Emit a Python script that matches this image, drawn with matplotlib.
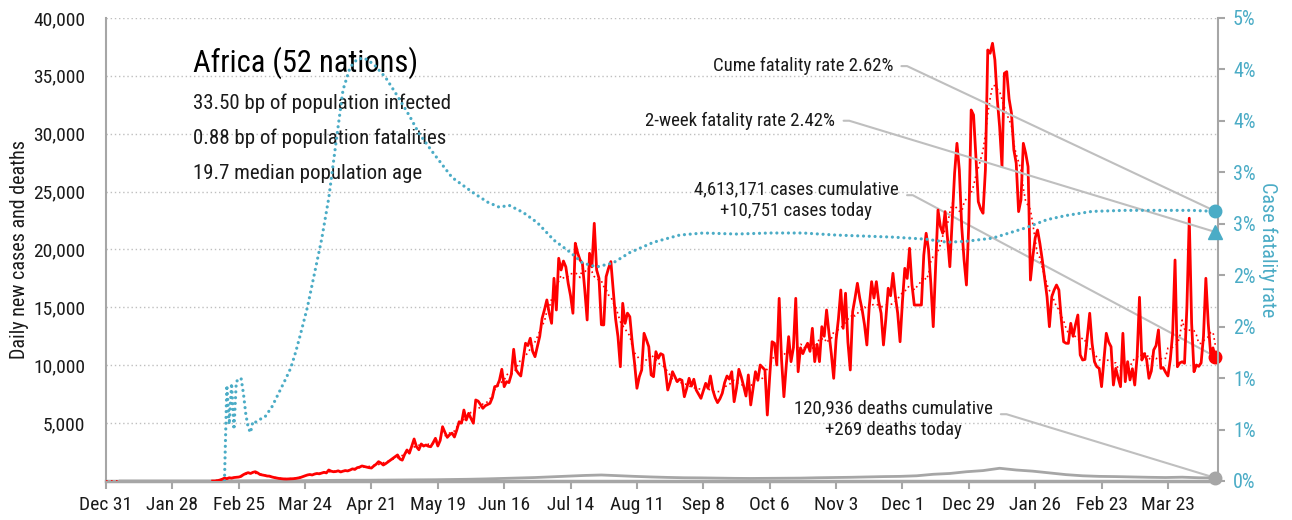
import numpy as np
import pandas as pd
import matplotlib
matplotlib.use("Agg")
import matplotlib.pyplot as plt
import matplotlib.dates as mdates
from matplotlib import font_manager
from matplotlib.ticker import FuncFormatter, MultipleLocator

REGION = "Africa (52 nations)"
STATS = [
    "33.50 bp of population infected",
    "0.88 bp of population fatalities",
    "19.7 median population age",
]

SERIES_START = "2019-12-31"
FIRST_CASE_DATE = "2020-02-14"

# daily new cases, Feb 14 2020 .. Apr 12 2021 (one row per week)
cases = [
    0, 0, 30, 80, 150, 250, 200,                                # Feb 14
    280, 250, 300, 320, 340, 400, 550,                          # Feb 21
    650, 720, 650, 750, 800, 700, 560,                          # Feb 28
    520, 480, 430, 420, 350, 300, 260,                          # Mar 6
    220, 200, 180, 170, 180, 190, 200,                          # Mar 13
    220, 260, 300, 380, 450, 520, 560,                          # Mar 20
    520, 600, 650, 620, 690, 750, 700,                          # Mar 27
    950, 850, 800, 820, 880, 780, 850,                          # Apr 3
    900, 870, 950, 1050, 1000, 1150, 1200,                      # Apr 10
    1300, 1250, 1200, 1150, 1120, 1300, 1450,                   # Apr 17
    1670, 1550, 1380, 1500, 1650, 1810, 1950,                   # Apr 24
    2100, 2250, 1900, 1800, 2300, 2680, 2400,                   # May 1
    3000, 3630, 2960, 2700, 3200, 3020, 3110,                   # May 8
    3000, 2960, 3300, 3690, 3020, 3500, 4690,                   # May 15
    4200, 3770, 4000, 4140, 3800, 4400, 5120,                   # May 22
    5000, 6130, 5270, 5850, 5400, 4990, 7000,                   # May 29
    6900, 6600, 6280, 6500, 6600, 6710, 7200,                   # Jun 5
    8150, 8200, 8700, 9650, 8150, 8580, 8500,                   # Jun 12
    9200, 11380, 9590, 9300, 9070, 10500, 11900,                # Jun 19
    11700, 12330, 11200, 10740, 11600, 12500, 14050,            # Jun 26
    14800, 15640, 14500, 13620, 17510, 14770, 19240,            # Jul 3
    18230, 19000, 18500, 17080, 16000, 14490, 20540,            # Jul 10
    19700, 19090, 18800, 16500, 13910, 19670, 18500,            # Jul 17
    22260, 18230, 17500, 13500, 13480, 17650, 18370,            # Jul 24
    18950, 16500, 14000, 12470, 9870, 15350, 13620,             # Jul 31
    14500, 14190, 12000, 10170, 8010, 9000, 9590,               # Aug 7
    12760, 12200, 11600, 9160, 9010, 11170, 10600,              # Aug 14
    11000, 10890, 9590, 7860, 8500, 9440, 9000,                 # Aug 21
    8580, 8800, 8700, 7280, 8000, 8870, 8200,                   # Aug 28
    8790, 7860, 7500, 7140, 7800, 8440, 8000,                   # Sep 4
    9070, 7860, 7200, 6770, 7100, 7580, 8500,                   # Sep 11
    9070, 8800, 9440, 6850, 8000, 9650, 9000,                   # Sep 18
    8200, 7340, 9160, 6570, 8000, 9440, 8700,                   # Sep 25
    10020, 9800, 9590, 5700, 9000, 12030, 11900,                # Oct 2
    10020, 15780, 10500, 7280, 10000, 12470, 10310,             # Oct 9
    11500, 15780, 9440, 11500, 11000, 11500, 11900,             # Oct 16
    11200, 13190, 10310, 11800, 10310, 13330, 12500,            # Oct 23
    14770, 12800, 11000, 8870, 12180, 14000, 16500,             # Oct 30
    13190, 16220, 12000, 9590, 14630, 15800, 17080,             # Nov 6
    15780, 14800, 13500, 11750, 15060, 17220, 15800,            # Nov 13
    17220, 15500, 14490, 11750, 14000, 16650, 16000,            # Nov 20
    17940, 16000, 14490, 12030, 15500, 18370, 17500,            # Nov 27
    20100, 17000, 15200, 15200, 15200, 15200, 19500,            # Dec 4
    21400, 20000, 17000, 13330, 18500, 23410, 22000,            # Dec 11
    21400, 23270, 21000, 18510, 22500, 26580, 29170,            # Dec 18
    26870, 22000, 19090, 16930, 22260, 32050, 31620,            # Dec 25
    28000, 24130, 23500, 23130, 26870, 37230, 36950,            # Jan 1
    37810, 36370, 33000, 30610, 27150, 35220, 35360,            # Jan 8
    33000, 31760, 28600, 27450, 23270, 24280, 29170,            # Jan 15
    28310, 27150, 17360, 19380, 21000, 21680, 20500,            # Jan 22
    19090, 17500, 15920, 13330, 15920, 16500, 16930,            # Jan 29
    16500, 14000, 12030, 11900, 11890, 13620, 12500,            # Feb 5
    13500, 14340, 10890, 10450, 10500, 12470, 14490,            # Feb 12
    11890, 10310, 9870, 9730, 8150, 10500, 12760,               # Feb 19
    12000, 11600, 8290, 9730, 8900, 8150, 12760,                # Feb 26
    8580, 10310, 8730, 9700, 8290, 10740, 15870,                # Mar 5
    10450, 11000, 10500, 8870, 9500, 11320, 11700,              # Mar 12
    13050, 9730, 9800, 9400, 9070, 10500, 12760,                # Mar 19
    19090, 9870, 10200, 10300, 10170, 15000, 22700,             # Mar 26
    13620, 9440, 10020, 9900, 10200, 12500, 17510,              # Apr 2
    13620, 11030, 11500, 10751,                                 # Apr 9
]

# daily deaths, sampled weekly (Jan 6 2020 .. Apr 12 2021)
deaths = [
    0, 0, 0, 0, 0, 0, 0,
    5, 15, 20, 20, 25, 40, 60,
    70, 70, 80, 90, 100, 110, 130,
    150, 180, 220, 260, 300, 360, 420,
    480, 520, 460, 400, 350, 310, 280,
    270, 250, 230, 220, 230, 240, 250,
    280, 300, 320, 350, 380, 400, 450,
    580, 650, 800, 900, 1100, 950, 850,
    700, 550, 450, 400, 380, 350, 320,
    300, 330, 280, 269,
]

# cumulative case fatality rate (%)
cfr_dates = [
    "2020-02-19", "2020-02-20", "2020-02-21", "2020-02-22", "2020-02-23",
    "2020-02-24", "2020-02-25", "2020-02-26", "2020-02-27", "2020-02-28",
    "2020-02-29", "2020-03-01", "2020-03-02", "2020-03-03", "2020-03-05",
    "2020-03-07", "2020-03-10", "2020-03-13", "2020-03-16", "2020-03-18",
    "2020-03-20", "2020-03-22", "2020-03-25", "2020-03-28", "2020-03-31",
    "2020-04-03", "2020-04-06", "2020-04-09", "2020-04-12", "2020-04-15",
    "2020-04-18", "2020-04-22", "2020-04-27", "2020-05-02", "2020-05-07",
    "2020-05-11", "2020-05-17", "2020-05-25", "2020-06-03", "2020-06-09",
    "2020-06-14", "2020-06-18", "2020-06-24", "2020-06-30", "2020-07-07",
    "2020-07-14", "2020-07-19", "2020-07-25", "2020-08-01", "2020-08-08",
    "2020-08-18", "2020-08-29", "2020-09-08", "2020-09-22", "2020-10-06",
    "2020-10-20", "2020-11-03", "2020-11-15", "2020-11-27", "2020-12-11",
    "2020-12-20", "2020-12-28", "2021-01-08", "2021-01-15", "2021-01-22",
    "2021-01-31", "2021-02-08", "2021-02-19", "2021-03-05", "2021-03-19",
    "2021-04-02", "2021-04-12",
]
cfr = [
    0.00, 0.93, 0.55, 0.95, 0.50,
    0.97, 0.98, 1.00, 0.85, 0.65,
    0.52, 0.47, 0.58, 0.57, 0.60,
    0.62, 0.72, 0.86, 1.00, 1.10,
    1.25, 1.42, 1.69, 2.02, 2.35,
    2.75, 3.28, 3.80, 4.02, 4.10,
    4.11, 4.05, 3.92, 3.74, 3.55,
    3.38, 3.19, 2.95, 2.80, 2.71,
    2.66, 2.68, 2.61, 2.51, 2.34,
    2.22, 2.12, 2.08, 2.12, 2.22,
    2.32, 2.39, 2.41, 2.40, 2.41,
    2.41, 2.39, 2.38, 2.37, 2.35,
    2.32, 2.33, 2.36, 2.41, 2.46,
    2.54, 2.58, 2.62, 2.63, 2.63,
    2.63, 2.62,
]

TOTAL_CASES = 4613171
TOTAL_DEATHS = 120936
TWO_WEEK_CFR = 2.42

RED = "#ff0000"
GRAY = "#a6a6a6"
CYAN = "#4bacc6"
LEADER = "#bfbfbf"
TEXT = "#1a1a1a"


def pick_font():
    """Prefer a condensed face; otherwise shrink a regular one to similar widths."""
    names = {f.name for f in font_manager.fontManager.ttflist}
    for name in ["Roboto Condensed", "Liberation Sans Narrow", "DejaVu Sans Condensed",
                 "Open Sans Condensed"]:
        if name in names:
            return name, 1.0
    if "Roboto" in names:
        return "Roboto", 0.86
    return "DejaVu Sans", 0.75


def date_label(x, pos=None):
    d = mdates.num2date(x)
    return f"{d:%b} {d.day}"


def pct_label(v, pos=None):
    # whole-percent labels, rounding halves up
    return f"{int(np.floor(v + 0.5 + 1e-9))}%"


def main():
    family, k = pick_font()
    plt.rcParams['font.family'] = [family, 'DejaVu Sans']

    last_date = pd.Timestamp(FIRST_CASE_DATE) + pd.Timedelta(days=len(cases) - 1)
    case_idx = pd.date_range(FIRST_CASE_DATE, periods=len(cases), freq="D")
    full_idx = pd.date_range(SERIES_START, last_date, freq="D")
    daily = pd.Series(cases, index=case_idx, dtype=float).reindex(full_idx, fill_value=0.0)
    trend = daily.rolling(7, center=True, min_periods=1).mean()

    death_idx = pd.date_range(end=last_date, periods=len(deaths), freq="7D")
    cfr_idx = pd.to_datetime(cfr_dates)

    cases_today = cases[-1]
    deaths_today = deaths[-1]
    cume_cfr = TOTAL_DEATHS / TOTAL_CASES * 100

    fig = plt.figure(figsize=(12.92, 5.2), dpi=100)
    ax = fig.add_axes([0.082, 0.075, 0.8605, 0.8905])
    ax2 = ax.twinx()

    # left axis: cases and deaths
    ax.plot(full_idx, trend, color=RED, lw=1.2, ls=(0, (1, 2)), zorder=3)
    ax.plot(case_idx, cases, color=RED, lw=2.0, zorder=4)
    ax.plot(death_idx, deaths, color=GRAY, lw=2.0, zorder=3)

    ax.set_xlim(pd.Timestamp(SERIES_START), last_date + pd.Timedelta(days=1))
    ax.set_ylim(0, 40000)
    ax.yaxis.set_major_locator(MultipleLocator(5000))
    ax.yaxis.set_major_formatter(FuncFormatter(lambda v, p: "" if v == 0 else f"{v:,.0f}"))
    ax.grid(axis="y", color=LEADER, ls=(0, (1, 2)), lw=1.0)
    ax.set_axisbelow(True)
    ax.tick_params(axis="y", length=0, labelsize=14 * k, labelcolor=TEXT, pad=15)

    ticks = pd.date_range(SERIES_START, periods=17, freq="28D")
    ax.set_xticks(ticks)
    ax.xaxis.set_major_formatter(FuncFormatter(date_label))
    ax.tick_params(axis="x", length=6, width=1.5, color=GRAY, labelsize=14 * k,
                   labelcolor=TEXT, pad=5)
    ax.set_ylabel("Daily new cases and deaths", fontsize=14.5 * k, color=TEXT, labelpad=3)

    for side in ["top", "right"]:
        ax.spines[side].set_visible(False)
    ax.spines["left"].set_color(GRAY)
    ax.spines["left"].set_linewidth(1.5)
    ax.spines["bottom"].set_color(GRAY)
    ax.spines["bottom"].set_linewidth(2.5)

    # right axis: case fatality rate
    ax2.plot(cfr_idx, cfr, color=CYAN, lw=2.3, ls=(0, (0.01, 1.8)),
             dash_capstyle="round", zorder=3)
    ax2.set_ylim(0, 4.5)
    ax2.yaxis.set_major_locator(MultipleLocator(0.5))
    ax2.yaxis.set_major_formatter(FuncFormatter(pct_label))
    ax2.tick_params(axis="y", length=5, width=1.5, color=GRAY, labelsize=14.5 * k,
                    labelcolor=CYAN, pad=6)
    ax2.set_ylabel("Case fatality rate", fontsize=14.5 * k, color=CYAN, rotation=-90,
                   labelpad=16)
    for side in ["top", "left", "bottom"]:
        ax2.spines[side].set_visible(False)
    ax2.spines["right"].set_color(GRAY)
    ax2.spines["right"].set_linewidth(1.5)

    # headline block
    ax.text(0.078, 0.903, REGION, transform=ax.transAxes, fontsize=22 * k,
            color="black", va="center", ha="left")
    for i, line in enumerate(STATS):
        ax.text(0.078, 0.816 - i * 0.0755, line, transform=ax.transAxes,
                fontsize=15 * k, color=TEXT, va="center", ha="left")

    # end-of-series callouts with leader lines
    def leader(relpos):
        return dict(arrowstyle="-", color=LEADER, lw=1.5, shrinkA=4, shrinkB=0,
                    relpos=relpos,
                    connectionstyle="arc,angleA=0,angleB=0,armA=14,armB=0,rad=0")

    ann = dict(textcoords="axes fraction", fontsize=13.5 * k, color=TEXT, zorder=2)
    ax2.annotate(f"Cume fatality rate {cume_cfr:.2f}%", xy=(last_date, cume_cfr),
                 xytext=(0.708, 0.896), ha="right", va="center",
                 arrowprops=leader((1, 0.5)), **ann)
    ax2.annotate(f"2-week fatality rate {TWO_WEEK_CFR:.2f}%", xy=(last_date, TWO_WEEK_CFR),
                 xytext=(0.656, 0.778), ha="right", va="center",
                 arrowprops=leader((1, 0.5)), **ann)
    ax.annotate(f"{TOTAL_CASES:,} cases cumulative\n+{cases_today:,} cases today",
                xy=(last_date, cases_today), xytext=(0.621, 0.607),
                ha="center", va="center", multialignment="center", linespacing=1.25,
                arrowprops=leader((1, 0.62)), **ann)
    ax.annotate(f"{TOTAL_DEATHS:,} deaths cumulative\n+{deaths_today:,} deaths today",
                xy=(last_date, deaths_today), xytext=(0.708, 0.134),
                ha="center", va="center", multialignment="center", linespacing=1.25,
                arrowprops=leader((1, 0.62)), **ann)

    ax2.plot([last_date], [cume_cfr], "o", color=CYAN, ms=9, zorder=6, clip_on=False)
    ax2.plot([last_date], [TWO_WEEK_CFR], "^", color=CYAN, ms=10, zorder=6, clip_on=False)
    ax.plot([last_date], [cases_today], "o", color=RED, ms=9, zorder=6, clip_on=False)
    ax.plot([last_date], [deaths_today], "o", color=GRAY, ms=9, zorder=6, clip_on=False)

    fig.savefig("out.png", dpi=100)


if __name__ == "__main__":
    main()
